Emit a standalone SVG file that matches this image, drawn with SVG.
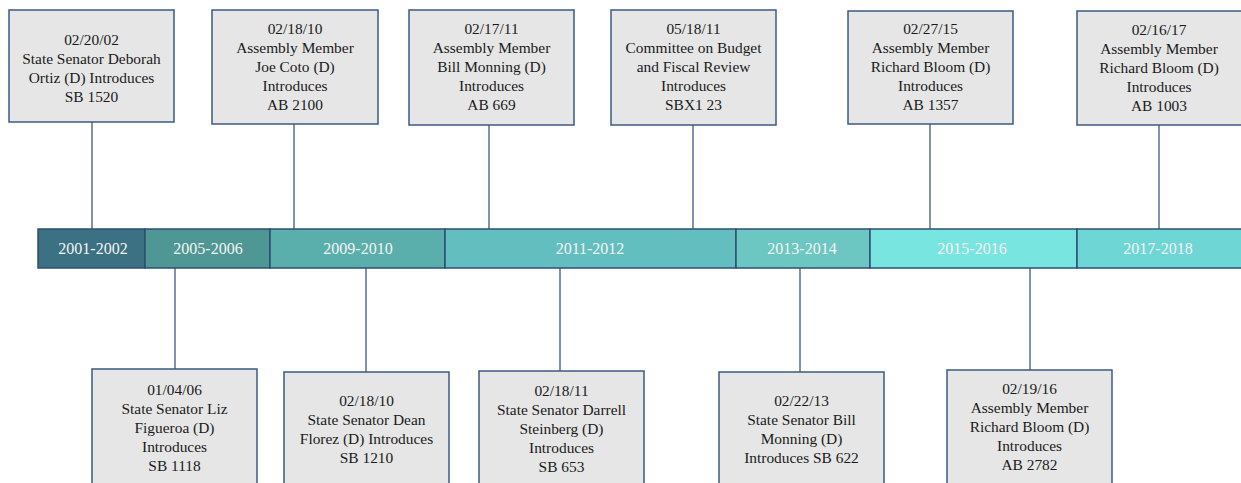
<svg xmlns="http://www.w3.org/2000/svg" width="1241" height="483" viewBox="0 0 1241 483">
<style>
.box{fill:#e6e6e6;stroke:#3c5a82;stroke-width:1.5}
.t{font-family:"Liberation Serif","Times New Roman","DejaVu Serif",serif;font-size:15.4px;fill:#1a1a1a;text-anchor:middle}
.seg{stroke:#2e4f74;stroke-width:1.5}
.yt{font-family:"Liberation Serif","Times New Roman","DejaVu Serif",serif;font-size:16px;fill:#f4f4f4;text-anchor:middle}
.c{stroke:#3c5a82;stroke-width:1.3;fill:none}
</style>
<rect width="1241" height="483" fill="#ffffff"/>
<g id="connectors">
<line class="c" x1="92" y1="122" x2="92" y2="229"/>
<line class="c" x1="294" y1="124" x2="294" y2="229"/>
<line class="c" x1="489" y1="125" x2="489" y2="229"/>
<line class="c" x1="693" y1="125" x2="693" y2="229"/>
<line class="c" x1="930" y1="124" x2="930" y2="229"/>
<line class="c" x1="1159" y1="125" x2="1159" y2="229"/>
<line class="c" x1="175" y1="268" x2="175" y2="369"/>
<line class="c" x1="366" y1="268" x2="366" y2="372"/>
<line class="c" x1="560" y1="268" x2="560" y2="371"/>
<line class="c" x1="800" y1="268" x2="800" y2="372"/>
<line class="c" x1="1030" y1="268" x2="1030" y2="370"/>
</g>
<g id="timeline">
<rect class="seg" x="38" y="229" width="107" height="39" fill="#3b7182"/>
<rect class="seg" x="145" y="229" width="125" height="39" fill="#4e9794"/>
<rect class="seg" x="270" y="229" width="175" height="39" fill="#5aafad"/>
<rect class="seg" x="445" y="229" width="291" height="39" fill="#63bfbf"/>
<rect class="seg" x="736" y="229" width="134" height="39" fill="#6cc7c2"/>
<rect class="seg" x="870" y="229" width="207" height="39" fill="#79e5e0"/>
<rect class="seg" x="1077" y="229" width="166" height="39" fill="#6ed7d6"/>
<text class="yt" x="93" y="254">2001-2002</text>
<text class="yt" x="208" y="254">2005-2006</text>
<text class="yt" x="358" y="254">2009-2010</text>
<text class="yt" x="590" y="254">2011-2012</text>
<text class="yt" x="802" y="254">2013-2014</text>
<text class="yt" x="972" y="254">2015-2016</text>
<text class="yt" x="1158" y="254">2017-2018</text>
</g>
<g id="top1">
<rect class="box" x="9" y="10" width="165" height="112"/>
<text class="t" x="91.5" y="45">02/20/02</text>
<text class="t" x="91.5" y="64">State Senator Deborah</text>
<text class="t" x="91.5" y="83">Ortiz (D) Introduces</text>
<text class="t" x="91.5" y="102">SB 1520</text>
</g>
<g id="top2">
<rect class="box" x="212" y="10" width="166" height="114"/>
<text class="t" x="295" y="34">02/18/10</text>
<text class="t" x="295" y="53">Assembly Member</text>
<text class="t" x="295" y="72">Joe Coto (D)</text>
<text class="t" x="295" y="91">Introduces</text>
<text class="t" x="295" y="110">AB 2100</text>
</g>
<g id="top3">
<rect class="box" x="409" y="10" width="165" height="115"/>
<text class="t" x="491.5" y="34">02/17/11</text>
<text class="t" x="491.5" y="53">Assembly Member</text>
<text class="t" x="491.5" y="72">Bill Monning (D)</text>
<text class="t" x="491.5" y="91">Introduces</text>
<text class="t" x="491.5" y="110">AB 669</text>
</g>
<g id="top4">
<rect class="box" x="611" y="10" width="165" height="115"/>
<text class="t" x="693.5" y="34">05/18/11</text>
<text class="t" x="693.5" y="53">Committee on Budget</text>
<text class="t" x="693.5" y="72">and Fiscal Review</text>
<text class="t" x="693.5" y="91">Introduces</text>
<text class="t" x="693.5" y="110">SBX1 23</text>
</g>
<g id="top5">
<rect class="box" x="848" y="11" width="165" height="113"/>
<text class="t" x="930.5" y="34">02/27/15</text>
<text class="t" x="930.5" y="53">Assembly Member</text>
<text class="t" x="930.5" y="72">Richard Bloom (D)</text>
<text class="t" x="930.5" y="91">Introduces</text>
<text class="t" x="930.5" y="110">AB 1357</text>
</g>
<g id="top6">
<rect class="box" x="1077" y="11" width="166" height="114"/>
<text class="t" x="1159" y="35">02/16/17</text>
<text class="t" x="1159" y="54">Assembly Member</text>
<text class="t" x="1159" y="73">Richard Bloom (D)</text>
<text class="t" x="1159" y="92">Introduces</text>
<text class="t" x="1159" y="111">AB 1003</text>
</g>
<g id="bottom1">
<rect class="box" x="92" y="369" width="165" height="120"/>
<text class="t" x="174.5" y="395">01/04/06</text>
<text class="t" x="174.5" y="414">State Senator Liz</text>
<text class="t" x="174.5" y="433">Figueroa (D)</text>
<text class="t" x="174.5" y="452">Introduces</text>
<text class="t" x="174.5" y="471">SB 1118</text>
</g>
<g id="bottom2">
<rect class="box" x="284" y="372" width="165" height="120"/>
<text class="t" x="366.5" y="406">02/18/10</text>
<text class="t" x="366.5" y="425">State Senator Dean</text>
<text class="t" x="366.5" y="444">Florez (D) Introduces</text>
<text class="t" x="366.5" y="463">SB 1210</text>
</g>
<g id="bottom3">
<rect class="box" x="479" y="371" width="165" height="120"/>
<text class="t" x="561.5" y="396">02/18/11</text>
<text class="t" x="561.5" y="415">State Senator Darrell</text>
<text class="t" x="561.5" y="434">Steinberg (D)</text>
<text class="t" x="561.5" y="453">Introduces</text>
<text class="t" x="561.5" y="472">SB 653</text>
</g>
<g id="bottom4">
<rect class="box" x="719" y="372" width="165" height="120"/>
<text class="t" x="801.5" y="406">02/22/13</text>
<text class="t" x="801.5" y="425">State Senator Bill</text>
<text class="t" x="801.5" y="444">Monning (D)</text>
<text class="t" x="801.5" y="463">Introduces SB 622</text>
</g>
<g id="bottom5">
<rect class="box" x="947" y="370" width="165" height="120"/>
<text class="t" x="1029.5" y="394">02/19/16</text>
<text class="t" x="1029.5" y="413">Assembly Member</text>
<text class="t" x="1029.5" y="432">Richard Bloom (D)</text>
<text class="t" x="1029.5" y="451">Introduces</text>
<text class="t" x="1029.5" y="470">AB 2782</text>
</g>
</svg>
